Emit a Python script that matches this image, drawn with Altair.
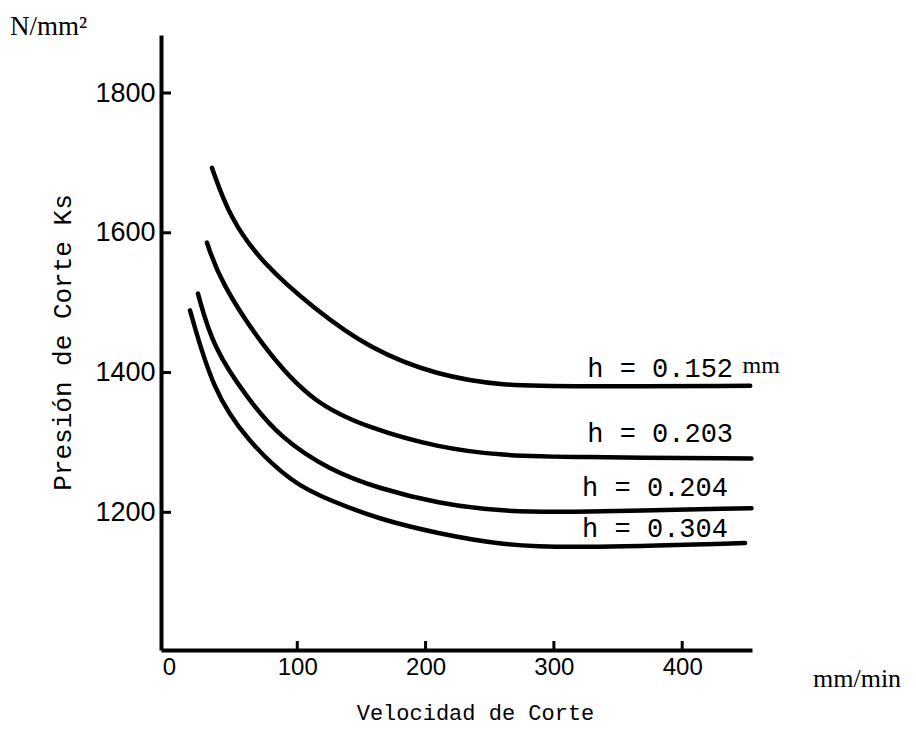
import altair as alt
import pandas as pd

# ---- data (speed in mm/min, Ks in N/mm²) ----
speed_152 = [33.5, 47.5, 73, 112, 157, 209, 260, 313, 453]
ks_152 = [1693, 1621, 1556, 1493, 1433, 1396, 1381, 1380, 1381]

speed_203 = [29.6, 39.8, 73.3, 112, 157, 209, 260, 313, 454]
ks_203 = [1586, 1531, 1436, 1356, 1320, 1293, 1281, 1279, 1277]

speed_204 = [22.6, 34.3, 60.8, 86.5, 125.5, 164, 209, 260, 313, 454]
ks_204 = [1513, 1436, 1364, 1307, 1260, 1234, 1213, 1201, 1200, 1206]

speed_304 = [16.4, 34.3, 60.8, 96.6, 125.5, 164, 209, 260, 313, 449]
ks_304 = [1489, 1374, 1303, 1241, 1217, 1190, 1170, 1153, 1149, 1156]

series_names = ["h = 0.152", "h = 0.203", "h = 0.204", "h = 0.304"]
label_x = [326, 326, 322, 322]
label_y = [1393, 1300, 1224, 1164]

x_ticks = [0, 100, 200, 300, 400]
y_ticks = [1200, 1400, 1600, 1800]
x_tick_marks = [100, 200, 300, 400]

X_DOMAIN = [-6.2, 454.4]
Y_DOMAIN = [1003, 1883]
W, H = 591, 615

rows = []
for name, xs, ys in zip(series_names,
                        [speed_152, speed_203, speed_204, speed_304],
                        [ks_152, ks_203, ks_204, ks_304]):
    for i, (a, b) in enumerate(zip(xs, ys)):
        rows.append({"serie": name, "v": a, "ks": b, "ord": i})
df = pd.DataFrame(rows)

xscale = alt.Scale(domain=X_DOMAIN, nice=False, zero=False)
yscale = alt.Scale(domain=Y_DOMAIN, nice=False, zero=False)

xaxis = alt.Axis(
    values=x_ticks, format="d", title="Velocidad de Corte", labelFont="Liberation Sans",
    labelFontSize=24, labelPadding=5, labelColor="black",
    titleFont="Liberation Mono", titleFontSize=22, titleFontWeight="normal",
    titleColor="black", titleX=314, titleY=69, titleAlign="center",
    titleBaseline="alphabetic", labelFlush=False)
yaxis = alt.Axis(
    values=y_ticks, format="d", title="Presión de Corte Ks", labelFont="Liberation Sans",
    labelFontSize=27, labelPadding=6, labelColor="black",
    titleFont="Liberation Mono", titleFontSize=26, titleFontWeight="normal",
    titleColor="black", titleX=-91, titleY=307, titleAngle=270,
    titleAlign="center", titleBaseline="alphabetic", labelFlush=False)

lines = alt.Chart(df).mark_line(
    strokeWidth=4.5, strokeCap="round", interpolate="basis", color="black"
).encode(
    x=alt.X("v:Q", scale=xscale, axis=xaxis),
    y=alt.Y("ks:Q", scale=yscale, axis=yaxis),
    detail="serie:N",
    order="ord:Q",
)

xt = alt.Chart(pd.DataFrame({"v": x_tick_marks})).mark_rule(
    strokeWidth=3, color="black"
).encode(
    x=alt.X("v:Q", scale=xscale, axis=xaxis),
    y=alt.value(H),
    y2=alt.value(H - 9),
)

yt = alt.Chart(pd.DataFrame({"ks": y_ticks})).mark_rule(
    strokeWidth=3, color="black"
).encode(
    y=alt.Y("ks:Q", scale=yscale, axis=yaxis),
    x=alt.value(0),
    x2=alt.value(10),
)

lab_df = pd.DataFrame({"label": series_names, "v": label_x, "ks": label_y})
labels = alt.Chart(lab_df).mark_text(
    font="Liberation Mono", fontSize=27, align="left", baseline="alphabetic",
    color="black"
).encode(
    x=alt.X("v:Q", scale=xscale, axis=xaxis),
    y=alt.Y("ks:Q", scale=yscale, axis=yaxis),
    text="label:N",
)

mm_lab = alt.Chart(pd.DataFrame({"label": ["mm"], "v": [447], "ks": [1399]})).mark_text(
    font="Liberation Serif", fontSize=24, align="left", baseline="alphabetic",
    color="black"
).encode(
    x=alt.X("v:Q", scale=xscale, axis=xaxis),
    y=alt.Y("ks:Q", scale=yscale, axis=yaxis),
    text="label:N",
)

unit_y = alt.Chart(pd.DataFrame({"label": ["N/mm²"]})).mark_text(
    font="Liberation Serif", fontSize=27, align="left", baseline="alphabetic",
    color="black"
).encode(x=alt.value(-151), y=alt.value(0), text="label:N")

unit_x = alt.Chart(pd.DataFrame({"label": ["mm/min"]})).mark_text(
    font="Liberation Serif", fontSize=26, align="left", baseline="alphabetic",
    color="black"
).encode(x=alt.value(652), y=alt.value(652), text="label:N")

chart = alt.layer(lines, xt, yt, labels, mm_lab, unit_y, unit_x).properties(
    width=W, height=H,
    autosize=alt.AutoSizeParams(type="none"),
    padding={"left": 153, "top": 27, "right": 156, "bottom": 80},
).configure_view(stroke=None).configure_axis(
    domainColor="black", domainWidth=4, ticks=False, grid=False,
)

chart.save("out.html", embed_options={"renderer": "svg", "actions": False})
